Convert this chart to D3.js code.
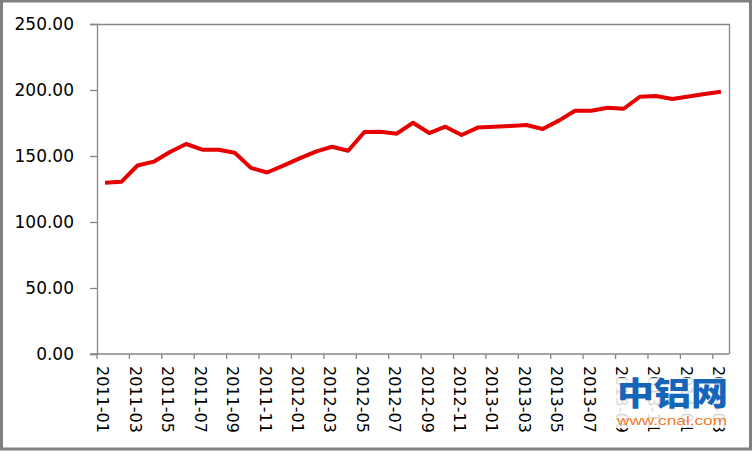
<!DOCTYPE html>
<html>
<head>
<meta charset="utf-8">
<script src="https://cdn.jsdelivr.net/npm/d3@7"></script>
<style>
  html, body { margin: 0; padding: 0; background: #fff; }
  svg { display: block; }
</style>
</head>
<body>
<svg id="chart" width="753" height="451"></svg>
<script>
const months = [
  "2011-01","2011-02","2011-03","2011-04","2011-05","2011-06","2011-07","2011-08","2011-09","2011-10","2011-11","2011-12",
  "2012-01","2012-02","2012-03","2012-04","2012-05","2012-06","2012-07","2012-08","2012-09","2012-10","2012-11","2012-12",
  "2013-01","2013-02","2013-03","2013-04","2013-05","2013-06","2013-07","2013-08","2013-09","2013-10","2013-11","2013-12",
  "2014-01","2014-02","2014-03"
];
const values = [
  129.8, 130.4, 142.8, 145.7, 153.0, 159.1, 154.8, 154.8, 152.4, 141.0, 137.5, 142.7,
  148.2, 153.3, 157.0, 154.0, 168.2, 168.3, 166.9, 175.2, 167.4, 172.2, 165.9, 171.5,
  172.2, 172.8, 173.5, 170.5, 176.8, 184.3, 184.3, 186.6, 185.8, 194.9, 195.5, 193.2,
  195.0, 196.9, 198.7
];
const yTicks = [0, 50, 100, 150, 200, 250];

const svg = d3.select("#chart");
const W = 753, H = 451;
const plot = { left: 97, right: 729, top: 24, bottom: 354 };
const axisColor = "#868686";

// outer frame
svg.append("rect").attr("x", 1.5).attr("y", 1).attr("width", W - 4).attr("height", H - 3)
  .attr("fill", "#fff").attr("stroke", "#808080").attr("stroke-width", 3);

const x = d3.scaleBand().domain(months).range([plot.left, plot.right]).padding(0);
const y = d3.scaleLinear().domain([0, 250]).range([plot.bottom, plot.top]);

// plot area border (top and right)
svg.append("path")
  .attr("d", `M${plot.left},${plot.top + 0.5}H${plot.right + 0.5}V${plot.bottom}`)
  .attr("fill", "none").attr("stroke", axisColor).attr("stroke-width", 1.3);

// y axis
const yAxis = d3.axisLeft(y).tickValues(yTicks).tickSize(7).tickPadding(16)
  .tickFormat(d3.format(".2f"));
const gy = svg.append("g").attr("transform", `translate(${plot.left},0)`).call(yAxis);
gy.select(".domain").attr("stroke", axisColor).attr("stroke-width", 1.3);
gy.selectAll(".tick line").attr("stroke", axisColor).attr("stroke-width", 1.3);
gy.selectAll(".tick text").attr("fill", "#000")
  .style("font-family", "'DejaVu Sans', sans-serif").style("font-size", "17px");

// x axis baseline
svg.append("line").attr("x1", plot.left - 7).attr("x2", plot.right)
  .attr("y1", plot.bottom).attr("y2", plot.bottom)
  .attr("stroke", axisColor).attr("stroke-width", 1.3);

// x tick marks at category boundaries every 2 months
const tickMonths = months.filter((m, i) => i % 2 === 0);
svg.append("g").selectAll("line").data(tickMonths).join("line")
  .attr("x1", d => x(d)).attr("x2", d => x(d))
  .attr("y1", plot.bottom).attr("y2", plot.bottom + 5)
  .attr("stroke", axisColor).attr("stroke-width", 1.3);

// x labels (rotated)
svg.append("g").selectAll("text").data(tickMonths).join("text")
  .attr("transform", d => `translate(${x(d) + x.bandwidth() / 2 - 2},${plot.bottom + 12}) rotate(90)`)
  .attr("dy", "0.35em")
  .attr("text-anchor", "start")
  .style("font-family", "'DejaVu Sans', sans-serif").style("font-size", "16px")
  .attr("fill", "#000")
  .text(d => d);

// line
const line = d3.line()
  .x((d, i) => x(months[i]) + x.bandwidth() / 2)
  .y(d => y(d));
svg.append("path").datum(values)
  .attr("d", line)
  .attr("fill", "none").attr("stroke", "#e60000").attr("stroke-width", 4)
  .attr("stroke-linejoin", "round").attr("stroke-linecap", "butt");

// watermark
const wm = svg.append("g");
wm.append("rect").attr("x", 614).attr("y", 378).attr("width", 116).attr("height", 50)
  .attr("fill", "#fff").attr("opacity", 0.85);
wm.append("text").attr("x", 617).attr("y", 405)
  .attr("textLength", 111).attr("lengthAdjust", "spacingAndGlyphs")
  .style("font-family", "'Noto Sans CJK SC', sans-serif").style("font-weight", "900")
  .style("font-size", "32px").attr("fill", "#1565b8").text("中铝网");
wm.append("text").attr("x", 617).attr("y", 425)
  .attr("textLength", 110).attr("lengthAdjust", "spacingAndGlyphs")
  .style("font-family", "'Liberation Sans', Arial, sans-serif")
  .style("font-size", "13px").attr("fill", "#f07a2a").text("www.cnal.com");
</script>
</body>
</html>
